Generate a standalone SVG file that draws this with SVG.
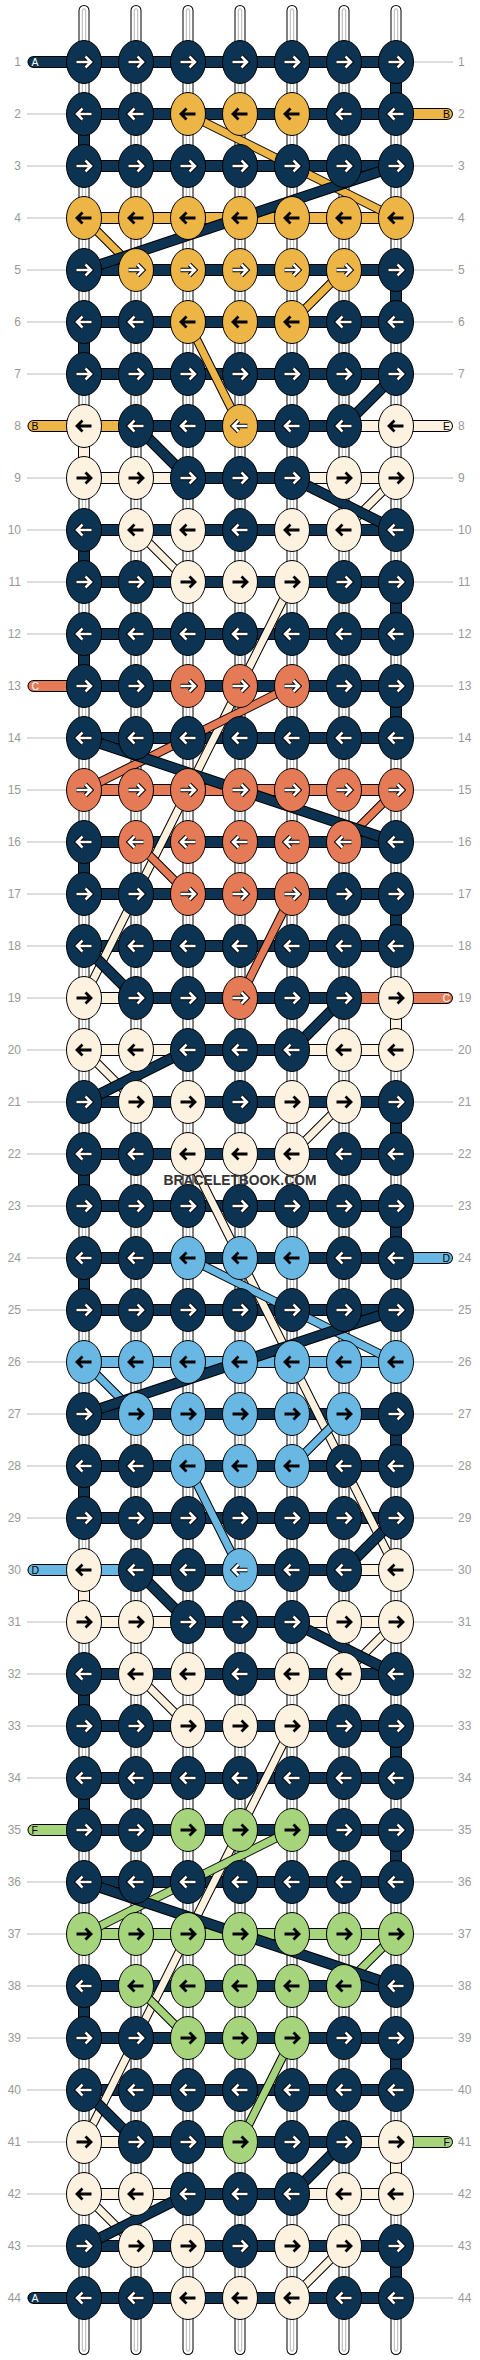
<svg xmlns="http://www.w3.org/2000/svg" width="480" height="2360" viewBox="0 0 480 2360">
<style>
.bg{fill:#fff}
.w0{fill:none;stroke:#000;stroke-width:11;stroke-linecap:round}
.w1{fill:none;stroke:#fff;stroke-width:9;stroke-linecap:round}
.w2{fill:none;stroke:#c4c4c4;stroke-width:4.5;stroke-linecap:round}
.w3{fill:none;stroke:#fff;stroke-width:2;stroke-linecap:round}
.gl{fill:none;stroke:#bbb;stroke-width:1}
.o12{fill:none;stroke:#000;stroke-width:12}
.o12r{fill:none;stroke:#000;stroke-width:12;stroke-linecap:round}
.sD{fill:none;stroke:#0c3452;stroke-width:10}
.sY{fill:none;stroke:#edb446;stroke-width:10}
.sC{fill:none;stroke:#fdf1e0;stroke-width:10}
.sO{fill:none;stroke:#e57a57;stroke-width:10}
.sL{fill:none;stroke:#69b8e4;stroke-width:10}
.sG{fill:none;stroke:#a5d47c;stroke-width:10}
.r{stroke-linecap:round}
.dko{fill:none;stroke:#000;stroke-width:11}
.dkD{fill:none;stroke:#0c3452;stroke-width:9}
.dco{fill:none;stroke:#000;stroke-width:9}
.dY{fill:none;stroke:#edb446;stroke-width:7}
.dC{fill:none;stroke:#fdf1e0;stroke-width:7}
.dO{fill:none;stroke:#e57a57;stroke-width:7}
.dL{fill:none;stroke:#69b8e4;stroke-width:7}
.dG{fill:none;stroke:#a5d47c;stroke-width:7}
.kD{fill:#0c3452;stroke:#000;stroke-width:1}
.kY{fill:#edb446;stroke:#000;stroke-width:1}
.kC{fill:#fdf1e0;stroke:#000;stroke-width:1}
.kO{fill:#e57a57;stroke:#000;stroke-width:1}
.kL{fill:#69b8e4;stroke:#000;stroke-width:1}
.kG{fill:#a5d47c;stroke:#000;stroke-width:1}
.ao{fill:none;stroke:#000;stroke-width:4.6}
.aw{fill:none;stroke:#fff;stroke-width:2.6}
.ab{fill:none;stroke:#000;stroke-width:2.8}
.ln{font-family:"Liberation Sans",Arial,sans-serif;font-size:12px;fill:#999;text-anchor:end}
.rn{font-family:"Liberation Sans",Arial,sans-serif;font-size:12px;fill:#999;text-anchor:start}
.lb{font-family:"Liberation Sans",Arial,sans-serif;font-size:10.5px}
.lw{fill:#fff}
.lk{fill:#000}
.wm{font-family:"Liberation Sans",Arial,sans-serif;font-size:15px;font-weight:bold;fill:#333;text-anchor:middle}
</style>
<defs>
<path id="ar" d="M-7.5,0H6.5M1.5,-5.5L7,0L1.5,5.5"/>
<g id="aRW"><use href="#ar" class="ao"/><use href="#ar" class="aw"/></g>
<g id="aLW" transform="scale(-1,1)"><use href="#ar" class="ao"/><use href="#ar" class="aw"/></g>
<g id="aRB"><use href="#ar" class="ab"/></g>
<g id="aLB" transform="scale(-1,1)"><use href="#ar" class="ab"/></g>
<ellipse id="e" rx="17.5" ry="21.5"/>
<g id="Dr"><use href="#e" class="kD"/><use href="#aRW"/></g>
<g id="Dl"><use href="#e" class="kD"/><use href="#aLW"/></g>
<g id="Yr"><use href="#e" class="kY"/><use href="#aRB"/></g>
<g id="Yl"><use href="#e" class="kY"/><use href="#aLB"/></g>
<g id="YrW"><use href="#e" class="kY"/><use href="#aRW"/></g>
<g id="YlW"><use href="#e" class="kY"/><use href="#aLW"/></g>
<g id="Cr"><use href="#e" class="kC"/><use href="#aRB"/></g>
<g id="Cl"><use href="#e" class="kC"/><use href="#aLB"/></g>
<g id="Or"><use href="#e" class="kO"/><use href="#aRW"/></g>
<g id="Ol"><use href="#e" class="kO"/><use href="#aLW"/></g>
<g id="Lr"><use href="#e" class="kL"/><use href="#aRB"/></g>
<g id="Ll"><use href="#e" class="kL"/><use href="#aLB"/></g>
<g id="LlW"><use href="#e" class="kL"/><use href="#aLW"/></g>
<g id="Gr"><use href="#e" class="kG"/><use href="#aRB"/></g>
<g id="Gl"><use href="#e" class="kG"/><use href="#aLB"/></g>
<path id="wp" d="M84,10.5V2349.5M136,10.5V2349.5M188,10.5V2349.5M240,10.5V2349.5M292,10.5V2349.5M344,10.5V2349.5M396,10.5V2349.5"/>
<path id="bD" d="M84,62H396M84,114H396M84,166H396M84,218H396M84,270H396M84,322H396M84,374H396M84,426H396M84,478H396M84,530H396M84,582H396M84,634H396M84,686H396M84,738H396M84,790H396M84,842H396M84,894H396M84,946H396M84,998H396M84,1050H396M84,1102H396M84,1154H396M84,1206H396M84,1258H396M84,1310H396M84,1362H396M84,1414H396M84,1466H396M84,1518H396M84,1570H396M84,1622H396M84,1674H396M84,1726H396M84,1778H396M84,1830H396M84,1882H396M84,1934H396M84,1986H396M84,2038H396M84,2090H396M84,2142H396M84,2194H396M84,2246H396M84,2298H396"/>
<path id="vD" d="M396,62V114M84,114V166M396,270V322M84,322V374M84,530V582M396,582V634M84,634V686M396,686V738M84,842V894M396,894V946M396,1102V1154M84,1154V1206M396,1206V1258M84,1258V1310M396,1414V1466M84,1466V1518M84,1674V1726M396,1726V1778M84,1778V1830M396,1830V1882M84,1986V2038M396,2038V2090M396,2246V2298"/>
<path id="bY" d="M84,218H396M84,426H136"/>
<path id="bC" d="M344,426H396M84,478H188M292,478H396M84,998H136M84,1050H188M292,1050H396M344,1570H396M84,1622H188M292,1622H396M84,2142H136M344,2142H396M84,2194H188M292,2194H396M84,426V478M396,998V1050M84,1570V1622M396,2142V2194"/>
<path id="bO" d="M84,790H396M344,998H396"/>
<path id="bL" d="M84,1362H396M84,1570H136"/>
<path id="bG" d="M84,1934H396"/>
<path id="tD" d="M84,62H33.5M84,2298H33.5"/>
<path id="tY" d="M396,114H447M84,426H33.5"/>
<path id="tC" d="M396,426H447"/>
<path id="tO" d="M84,686H33.5M396,998H447"/>
<path id="tL" d="M396,1258H447M84,1570H33.5"/>
<path id="tG" d="M84,1830H33.5M396,2142H447"/>
<path id="xC" d="M396,478L344,530M136,530L188,582M292,582L84,998M84,1050L136,1102M344,1102L292,1154M188,1154L396,1570M396,1622L344,1674M136,1674L188,1726M292,1726L84,2142M84,2194L136,2246M344,2246L292,2298"/>
<path id="xY" d="M188,114L396,218M84,218L136,270M344,270L292,322M188,322L240,426"/>
<path id="xO" d="M292,686L84,790M396,790L344,842M136,842L188,894M292,894L240,998"/>
<path id="xL" d="M188,1258L396,1362M84,1362L136,1414M344,1414L292,1466M188,1466L240,1570"/>
<path id="xG" d="M292,1830L84,1934M396,1934L344,1986M136,1986L188,2038M292,2038L240,2142"/>
<path id="xD" d="M396,166L84,270M396,374L344,426M136,426L188,478M292,478L396,530M84,738L396,842M84,946L136,998M344,998L292,1050M188,1050L84,1102M396,1310L84,1414M396,1518L344,1570M136,1570L188,1622M292,1622L396,1674M84,1882L396,1986M84,2090L136,2142M344,2142L292,2194M188,2194L84,2246"/>
</defs>
<rect class="bg" x="0" y="0" width="480" height="2360"/>
<g id="guides">
<path class="gl" d="M27,62H453M27,114H453M27,166H453M27,218H453M27,270H453M27,322H453M27,374H453M27,426H453M27,478H453M27,530H453M27,582H453M27,634H453M27,686H453M27,738H453M27,790H453M27,842H453M27,894H453M27,946H453M27,998H453M27,1050H453M27,1102H453M27,1154H453M27,1206H453M27,1258H453M27,1310H453M27,1362H453M27,1414H453M27,1466H453M27,1518H453M27,1570H453M27,1622H453M27,1674H453M27,1726H453M27,1778H453M27,1830H453M27,1882H453M27,1934H453M27,1986H453M27,2038H453M27,2090H453M27,2142H453M27,2194H453M27,2246H453M27,2298H453"/>
</g>
<g id="warps">
<use href="#wp" class="w0"/>
<use href="#wp" class="w1"/>
<use href="#wp" class="w2"/>
<use href="#wp" class="w3"/>
</g>
<g id="connectors">
<g id="bands">
<use href="#bD" class="o12"/><use href="#bD" class="sD"/>
<use href="#vD" class="o12"/><use href="#vD" class="sD"/>
<use href="#bY" class="o12"/><use href="#bY" class="sY"/>
<use href="#bC" class="o12"/><use href="#bC" class="sC"/>
<use href="#bO" class="o12"/><use href="#bO" class="sO"/>
<use href="#bL" class="o12"/><use href="#bL" class="sL"/>
<use href="#bG" class="o12"/><use href="#bG" class="sG"/>
</g>
<g id="stubs">
<use href="#tD" class="o12r"/><use href="#tD" class="sD r"/>
<use href="#tY" class="o12r"/><use href="#tY" class="sY r"/>
<use href="#tC" class="o12r"/><use href="#tC" class="sC r"/>
<use href="#tO" class="o12r"/><use href="#tO" class="sO r"/>
<use href="#tL" class="o12r"/><use href="#tL" class="sL r"/>
<use href="#tG" class="o12r"/><use href="#tG" class="sG r"/>
</g>
<g id="diagonals">
<use href="#xC" class="dco"/><use href="#xC" class="dC"/>
<use href="#xY" class="dco"/><use href="#xY" class="dY"/>
<use href="#xO" class="dco"/><use href="#xO" class="dO"/>
<use href="#xL" class="dco"/><use href="#xL" class="dL"/>
<use href="#xG" class="dco"/><use href="#xG" class="dG"/>
<use href="#xD" class="dko"/><use href="#xD" class="dkD"/>
</g>
</g>
<g id="knots">
<g id="row1"><use href="#Dr" x="84" y="62"/><use href="#Dr" x="136" y="62"/><use href="#Dr" x="188" y="62"/><use href="#Dr" x="240" y="62"/><use href="#Dr" x="292" y="62"/><use href="#Dr" x="344" y="62"/><use href="#Dr" x="396" y="62"/></g>
<g id="row2"><use href="#Dl" x="84" y="114"/><use href="#Dl" x="136" y="114"/><use href="#Yl" x="188" y="114"/><use href="#Yl" x="240" y="114"/><use href="#Yl" x="292" y="114"/><use href="#Dl" x="344" y="114"/><use href="#Dl" x="396" y="114"/></g>
<g id="row3"><use href="#Dr" x="84" y="166"/><use href="#Dr" x="136" y="166"/><use href="#Dr" x="188" y="166"/><use href="#Dr" x="240" y="166"/><use href="#Dr" x="292" y="166"/><use href="#Dr" x="344" y="166"/><use href="#Dr" x="396" y="166"/></g>
<g id="row4"><use href="#Yl" x="84" y="218"/><use href="#Yl" x="136" y="218"/><use href="#Yl" x="188" y="218"/><use href="#Yl" x="240" y="218"/><use href="#Yl" x="292" y="218"/><use href="#Yl" x="344" y="218"/><use href="#Yl" x="396" y="218"/></g>
<g id="row5"><use href="#Dr" x="84" y="270"/><use href="#YrW" x="136" y="270"/><use href="#YrW" x="188" y="270"/><use href="#YrW" x="240" y="270"/><use href="#YrW" x="292" y="270"/><use href="#YrW" x="344" y="270"/><use href="#Dr" x="396" y="270"/></g>
<g id="row6"><use href="#Dl" x="84" y="322"/><use href="#Dl" x="136" y="322"/><use href="#Yl" x="188" y="322"/><use href="#Yl" x="240" y="322"/><use href="#Yl" x="292" y="322"/><use href="#Dl" x="344" y="322"/><use href="#Dl" x="396" y="322"/></g>
<g id="row7"><use href="#Dr" x="84" y="374"/><use href="#Dr" x="136" y="374"/><use href="#Dr" x="188" y="374"/><use href="#Dr" x="240" y="374"/><use href="#Dr" x="292" y="374"/><use href="#Dr" x="344" y="374"/><use href="#Dr" x="396" y="374"/></g>
<g id="row8"><use href="#Cl" x="84" y="426"/><use href="#Dl" x="136" y="426"/><use href="#Dl" x="188" y="426"/><use href="#YlW" x="240" y="426"/><use href="#Dl" x="292" y="426"/><use href="#Dl" x="344" y="426"/><use href="#Cl" x="396" y="426"/></g>
<g id="row9"><use href="#Cr" x="84" y="478"/><use href="#Cr" x="136" y="478"/><use href="#Dr" x="188" y="478"/><use href="#Dr" x="240" y="478"/><use href="#Dr" x="292" y="478"/><use href="#Cr" x="344" y="478"/><use href="#Cr" x="396" y="478"/></g>
<g id="row10"><use href="#Dl" x="84" y="530"/><use href="#Cl" x="136" y="530"/><use href="#Cl" x="188" y="530"/><use href="#Dl" x="240" y="530"/><use href="#Cl" x="292" y="530"/><use href="#Cl" x="344" y="530"/><use href="#Dl" x="396" y="530"/></g>
<g id="row11"><use href="#Dr" x="84" y="582"/><use href="#Dr" x="136" y="582"/><use href="#Cr" x="188" y="582"/><use href="#Cr" x="240" y="582"/><use href="#Cr" x="292" y="582"/><use href="#Dr" x="344" y="582"/><use href="#Dr" x="396" y="582"/></g>
<g id="row12"><use href="#Dl" x="84" y="634"/><use href="#Dl" x="136" y="634"/><use href="#Dl" x="188" y="634"/><use href="#Dl" x="240" y="634"/><use href="#Dl" x="292" y="634"/><use href="#Dl" x="344" y="634"/><use href="#Dl" x="396" y="634"/></g>
<g id="row13"><use href="#Dr" x="84" y="686"/><use href="#Dr" x="136" y="686"/><use href="#Or" x="188" y="686"/><use href="#Or" x="240" y="686"/><use href="#Or" x="292" y="686"/><use href="#Dr" x="344" y="686"/><use href="#Dr" x="396" y="686"/></g>
<g id="row14"><use href="#Dl" x="84" y="738"/><use href="#Dl" x="136" y="738"/><use href="#Dl" x="188" y="738"/><use href="#Dl" x="240" y="738"/><use href="#Dl" x="292" y="738"/><use href="#Dl" x="344" y="738"/><use href="#Dl" x="396" y="738"/></g>
<g id="row15"><use href="#Or" x="84" y="790"/><use href="#Or" x="136" y="790"/><use href="#Or" x="188" y="790"/><use href="#Or" x="240" y="790"/><use href="#Or" x="292" y="790"/><use href="#Or" x="344" y="790"/><use href="#Or" x="396" y="790"/></g>
<g id="row16"><use href="#Dl" x="84" y="842"/><use href="#Ol" x="136" y="842"/><use href="#Ol" x="188" y="842"/><use href="#Ol" x="240" y="842"/><use href="#Ol" x="292" y="842"/><use href="#Ol" x="344" y="842"/><use href="#Dl" x="396" y="842"/></g>
<g id="row17"><use href="#Dr" x="84" y="894"/><use href="#Dr" x="136" y="894"/><use href="#Or" x="188" y="894"/><use href="#Or" x="240" y="894"/><use href="#Or" x="292" y="894"/><use href="#Dr" x="344" y="894"/><use href="#Dr" x="396" y="894"/></g>
<g id="row18"><use href="#Dl" x="84" y="946"/><use href="#Dl" x="136" y="946"/><use href="#Dl" x="188" y="946"/><use href="#Dl" x="240" y="946"/><use href="#Dl" x="292" y="946"/><use href="#Dl" x="344" y="946"/><use href="#Dl" x="396" y="946"/></g>
<g id="row19"><use href="#Cr" x="84" y="998"/><use href="#Dr" x="136" y="998"/><use href="#Dr" x="188" y="998"/><use href="#Or" x="240" y="998"/><use href="#Dr" x="292" y="998"/><use href="#Dr" x="344" y="998"/><use href="#Cr" x="396" y="998"/></g>
<g id="row20"><use href="#Cl" x="84" y="1050"/><use href="#Cl" x="136" y="1050"/><use href="#Dl" x="188" y="1050"/><use href="#Dl" x="240" y="1050"/><use href="#Dl" x="292" y="1050"/><use href="#Cl" x="344" y="1050"/><use href="#Cl" x="396" y="1050"/></g>
<g id="row21"><use href="#Dr" x="84" y="1102"/><use href="#Cr" x="136" y="1102"/><use href="#Cr" x="188" y="1102"/><use href="#Dr" x="240" y="1102"/><use href="#Cr" x="292" y="1102"/><use href="#Cr" x="344" y="1102"/><use href="#Dr" x="396" y="1102"/></g>
<g id="row22"><use href="#Dl" x="84" y="1154"/><use href="#Dl" x="136" y="1154"/><use href="#Cl" x="188" y="1154"/><use href="#Cl" x="240" y="1154"/><use href="#Cl" x="292" y="1154"/><use href="#Dl" x="344" y="1154"/><use href="#Dl" x="396" y="1154"/></g>
<g id="row23"><use href="#Dr" x="84" y="1206"/><use href="#Dr" x="136" y="1206"/><use href="#Dr" x="188" y="1206"/><use href="#Dr" x="240" y="1206"/><use href="#Dr" x="292" y="1206"/><use href="#Dr" x="344" y="1206"/><use href="#Dr" x="396" y="1206"/></g>
<g id="row24"><use href="#Dl" x="84" y="1258"/><use href="#Dl" x="136" y="1258"/><use href="#Ll" x="188" y="1258"/><use href="#Ll" x="240" y="1258"/><use href="#Ll" x="292" y="1258"/><use href="#Dl" x="344" y="1258"/><use href="#Dl" x="396" y="1258"/></g>
<g id="row25"><use href="#Dr" x="84" y="1310"/><use href="#Dr" x="136" y="1310"/><use href="#Dr" x="188" y="1310"/><use href="#Dr" x="240" y="1310"/><use href="#Dr" x="292" y="1310"/><use href="#Dr" x="344" y="1310"/><use href="#Dr" x="396" y="1310"/></g>
<g id="row26"><use href="#Ll" x="84" y="1362"/><use href="#Ll" x="136" y="1362"/><use href="#Ll" x="188" y="1362"/><use href="#Ll" x="240" y="1362"/><use href="#Ll" x="292" y="1362"/><use href="#Ll" x="344" y="1362"/><use href="#Ll" x="396" y="1362"/></g>
<g id="row27"><use href="#Dr" x="84" y="1414"/><use href="#Lr" x="136" y="1414"/><use href="#Lr" x="188" y="1414"/><use href="#Lr" x="240" y="1414"/><use href="#Lr" x="292" y="1414"/><use href="#Lr" x="344" y="1414"/><use href="#Dr" x="396" y="1414"/></g>
<g id="row28"><use href="#Dl" x="84" y="1466"/><use href="#Dl" x="136" y="1466"/><use href="#Ll" x="188" y="1466"/><use href="#Ll" x="240" y="1466"/><use href="#Ll" x="292" y="1466"/><use href="#Dl" x="344" y="1466"/><use href="#Dl" x="396" y="1466"/></g>
<g id="row29"><use href="#Dr" x="84" y="1518"/><use href="#Dr" x="136" y="1518"/><use href="#Dr" x="188" y="1518"/><use href="#Dr" x="240" y="1518"/><use href="#Dr" x="292" y="1518"/><use href="#Dr" x="344" y="1518"/><use href="#Dr" x="396" y="1518"/></g>
<g id="row30"><use href="#Cl" x="84" y="1570"/><use href="#Dl" x="136" y="1570"/><use href="#Dl" x="188" y="1570"/><use href="#LlW" x="240" y="1570"/><use href="#Dl" x="292" y="1570"/><use href="#Dl" x="344" y="1570"/><use href="#Cl" x="396" y="1570"/></g>
<g id="row31"><use href="#Cr" x="84" y="1622"/><use href="#Cr" x="136" y="1622"/><use href="#Dr" x="188" y="1622"/><use href="#Dr" x="240" y="1622"/><use href="#Dr" x="292" y="1622"/><use href="#Cr" x="344" y="1622"/><use href="#Cr" x="396" y="1622"/></g>
<g id="row32"><use href="#Dl" x="84" y="1674"/><use href="#Cl" x="136" y="1674"/><use href="#Cl" x="188" y="1674"/><use href="#Dl" x="240" y="1674"/><use href="#Cl" x="292" y="1674"/><use href="#Cl" x="344" y="1674"/><use href="#Dl" x="396" y="1674"/></g>
<g id="row33"><use href="#Dr" x="84" y="1726"/><use href="#Dr" x="136" y="1726"/><use href="#Cr" x="188" y="1726"/><use href="#Cr" x="240" y="1726"/><use href="#Cr" x="292" y="1726"/><use href="#Dr" x="344" y="1726"/><use href="#Dr" x="396" y="1726"/></g>
<g id="row34"><use href="#Dl" x="84" y="1778"/><use href="#Dl" x="136" y="1778"/><use href="#Dl" x="188" y="1778"/><use href="#Dl" x="240" y="1778"/><use href="#Dl" x="292" y="1778"/><use href="#Dl" x="344" y="1778"/><use href="#Dl" x="396" y="1778"/></g>
<g id="row35"><use href="#Dr" x="84" y="1830"/><use href="#Dr" x="136" y="1830"/><use href="#Gr" x="188" y="1830"/><use href="#Gr" x="240" y="1830"/><use href="#Gr" x="292" y="1830"/><use href="#Dr" x="344" y="1830"/><use href="#Dr" x="396" y="1830"/></g>
<g id="row36"><use href="#Dl" x="84" y="1882"/><use href="#Dl" x="136" y="1882"/><use href="#Dl" x="188" y="1882"/><use href="#Dl" x="240" y="1882"/><use href="#Dl" x="292" y="1882"/><use href="#Dl" x="344" y="1882"/><use href="#Dl" x="396" y="1882"/></g>
<g id="row37"><use href="#Gr" x="84" y="1934"/><use href="#Gr" x="136" y="1934"/><use href="#Gr" x="188" y="1934"/><use href="#Gr" x="240" y="1934"/><use href="#Gr" x="292" y="1934"/><use href="#Gr" x="344" y="1934"/><use href="#Gr" x="396" y="1934"/></g>
<g id="row38"><use href="#Dl" x="84" y="1986"/><use href="#Gl" x="136" y="1986"/><use href="#Gl" x="188" y="1986"/><use href="#Gl" x="240" y="1986"/><use href="#Gl" x="292" y="1986"/><use href="#Gl" x="344" y="1986"/><use href="#Dl" x="396" y="1986"/></g>
<g id="row39"><use href="#Dr" x="84" y="2038"/><use href="#Dr" x="136" y="2038"/><use href="#Gr" x="188" y="2038"/><use href="#Gr" x="240" y="2038"/><use href="#Gr" x="292" y="2038"/><use href="#Dr" x="344" y="2038"/><use href="#Dr" x="396" y="2038"/></g>
<g id="row40"><use href="#Dl" x="84" y="2090"/><use href="#Dl" x="136" y="2090"/><use href="#Dl" x="188" y="2090"/><use href="#Dl" x="240" y="2090"/><use href="#Dl" x="292" y="2090"/><use href="#Dl" x="344" y="2090"/><use href="#Dl" x="396" y="2090"/></g>
<g id="row41"><use href="#Cr" x="84" y="2142"/><use href="#Dr" x="136" y="2142"/><use href="#Dr" x="188" y="2142"/><use href="#Gr" x="240" y="2142"/><use href="#Dr" x="292" y="2142"/><use href="#Dr" x="344" y="2142"/><use href="#Cr" x="396" y="2142"/></g>
<g id="row42"><use href="#Cl" x="84" y="2194"/><use href="#Cl" x="136" y="2194"/><use href="#Dl" x="188" y="2194"/><use href="#Dl" x="240" y="2194"/><use href="#Dl" x="292" y="2194"/><use href="#Cl" x="344" y="2194"/><use href="#Cl" x="396" y="2194"/></g>
<g id="row43"><use href="#Dr" x="84" y="2246"/><use href="#Cr" x="136" y="2246"/><use href="#Cr" x="188" y="2246"/><use href="#Dr" x="240" y="2246"/><use href="#Cr" x="292" y="2246"/><use href="#Cr" x="344" y="2246"/><use href="#Dr" x="396" y="2246"/></g>
<g id="row44"><use href="#Dl" x="84" y="2298"/><use href="#Dl" x="136" y="2298"/><use href="#Cl" x="188" y="2298"/><use href="#Cl" x="240" y="2298"/><use href="#Cl" x="292" y="2298"/><use href="#Dl" x="344" y="2298"/><use href="#Dl" x="396" y="2298"/></g>
</g>
<g id="labels" class="lb">
<text class="lw" x="31.5" y="65.8">A</text>
<text class="lk" x="450" y="117.8" text-anchor="end">B</text>
<text class="lk" x="31.5" y="429.8">B</text>
<text class="lk" x="450" y="429.8" text-anchor="end">E</text>
<text class="lw" x="31.5" y="689.8">C</text>
<text class="lw" x="450" y="1001.8" text-anchor="end">C</text>
<text class="lk" x="450" y="1261.8" text-anchor="end">D</text>
<text class="lk" x="31.5" y="1573.8">D</text>
<text class="lk" x="31.5" y="1833.8">F</text>
<text class="lk" x="450" y="2145.8" text-anchor="end">F</text>
<text class="lw" x="31.5" y="2301.8">A</text>
</g>
<g id="rownums-left" class="ln">
<text x="21" y="66">1</text><text x="21" y="118">2</text><text x="21" y="170">3</text><text x="21" y="222">4</text><text x="21" y="274">5</text><text x="21" y="326">6</text><text x="21" y="378">7</text><text x="21" y="430">8</text><text x="21" y="482">9</text><text x="21" y="534">10</text><text x="21" y="586">11</text><text x="21" y="638">12</text><text x="21" y="690">13</text><text x="21" y="742">14</text><text x="21" y="794">15</text><text x="21" y="846">16</text><text x="21" y="898">17</text><text x="21" y="950">18</text><text x="21" y="1002">19</text><text x="21" y="1054">20</text><text x="21" y="1106">21</text><text x="21" y="1158">22</text><text x="21" y="1210">23</text><text x="21" y="1262">24</text><text x="21" y="1314">25</text><text x="21" y="1366">26</text><text x="21" y="1418">27</text><text x="21" y="1470">28</text><text x="21" y="1522">29</text><text x="21" y="1574">30</text><text x="21" y="1626">31</text><text x="21" y="1678">32</text><text x="21" y="1730">33</text><text x="21" y="1782">34</text><text x="21" y="1834">35</text><text x="21" y="1886">36</text><text x="21" y="1938">37</text><text x="21" y="1990">38</text><text x="21" y="2042">39</text><text x="21" y="2094">40</text><text x="21" y="2146">41</text><text x="21" y="2198">42</text><text x="21" y="2250">43</text><text x="21" y="2302">44</text>
</g>
<g id="rownums-right" class="rn">
<text x="458" y="66">1</text><text x="458" y="118">2</text><text x="458" y="170">3</text><text x="458" y="222">4</text><text x="458" y="274">5</text><text x="458" y="326">6</text><text x="458" y="378">7</text><text x="458" y="430">8</text><text x="458" y="482">9</text><text x="458" y="534">10</text><text x="458" y="586">11</text><text x="458" y="638">12</text><text x="458" y="690">13</text><text x="458" y="742">14</text><text x="458" y="794">15</text><text x="458" y="846">16</text><text x="458" y="898">17</text><text x="458" y="950">18</text><text x="458" y="1002">19</text><text x="458" y="1054">20</text><text x="458" y="1106">21</text><text x="458" y="1158">22</text><text x="458" y="1210">23</text><text x="458" y="1262">24</text><text x="458" y="1314">25</text><text x="458" y="1366">26</text><text x="458" y="1418">27</text><text x="458" y="1470">28</text><text x="458" y="1522">29</text><text x="458" y="1574">30</text><text x="458" y="1626">31</text><text x="458" y="1678">32</text><text x="458" y="1730">33</text><text x="458" y="1782">34</text><text x="458" y="1834">35</text><text x="458" y="1886">36</text><text x="458" y="1938">37</text><text x="458" y="1990">38</text><text x="458" y="2042">39</text><text x="458" y="2094">40</text><text x="458" y="2146">41</text><text x="458" y="2198">42</text><text x="458" y="2250">43</text><text x="458" y="2302">44</text>
</g>
<text id="watermark" class="wm" x="240" y="1185" textLength="153" lengthAdjust="spacingAndGlyphs">BRACELETBOOK.COM</text>
</svg>
